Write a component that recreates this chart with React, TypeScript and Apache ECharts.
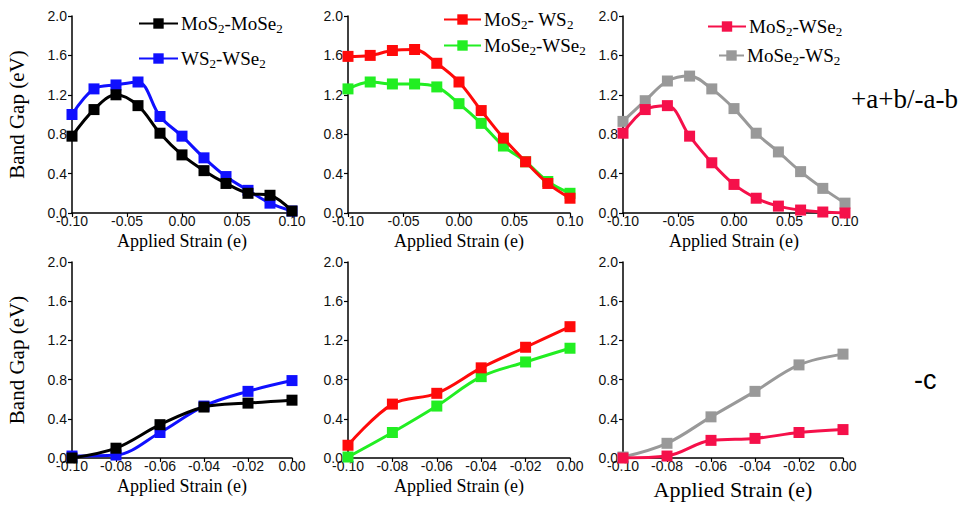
import React, { useEffect, useRef } from "react";
import * as echarts from "echarts";

// Strain values (x)
const strainTop = [-0.1, -0.08, -0.06, -0.04, -0.02, 0.0, 0.02, 0.04, 0.06, 0.08, 0.1];
const strainBottom = [-0.1, -0.08, -0.06, -0.04, -0.02, 0.0];

// Top row: +a+b/-a-b
const mos2Mose2Top = [0.78, 1.05, 1.2, 1.09, 0.81, 0.59, 0.43, 0.3, 0.2, 0.18, 0.02];
const ws2Wse2Top = [1.0, 1.26, 1.3, 1.33, 0.98, 0.78, 0.56, 0.37, 0.23, 0.1, 0.02];
const mos2Ws2Top = [1.59, 1.6, 1.65, 1.66, 1.52, 1.33, 1.04, 0.76, 0.52, 0.3, 0.15];
const mose2Wse2Top = [1.26, 1.33, 1.31, 1.31, 1.28, 1.11, 0.91, 0.68, 0.52, 0.32, 0.2];
const mos2Wse2Top = [0.81, 1.05, 1.09, 0.78, 0.51, 0.29, 0.15, 0.07, 0.03, 0.01, 0.0];
const mose2Ws2Top = [0.93, 1.14, 1.34, 1.39, 1.26, 1.06, 0.81, 0.62, 0.42, 0.25, 0.1];

// Bottom row: -c
const mos2Mose2Bot = [0.0, 0.1, 0.34, 0.52, 0.56, 0.59];
const ws2Wse2Bot = [0.02, 0.03, 0.26, 0.53, 0.68, 0.79];
const mos2Ws2Bot = [0.13, 0.55, 0.66, 0.92, 1.13, 1.34];
const mose2Wse2Bot = [0.01, 0.26, 0.53, 0.83, 0.98, 1.12];
const mos2Wse2Bot = [0.0, 0.02, 0.18, 0.2, 0.26, 0.29];
const mose2Ws2Bot = [0.01, 0.15, 0.42, 0.68, 0.95, 1.06];

const names = ["MoS2-MoSe2", "WS2-WSe2", "MoS2- WS2", "MoSe2-WSe2", "MoS2-WSe2", "MoSe2-WS2"];
const colors = ["#000000", "#1010ff", "#ff0a0a", "#22ee22", "#f5104a", "#999999"];

const yTitle = "Band Gap (eV)";
const xTitle = "Applied Strain (e)";
const rowLabels = ["+a+b/-a-b", "-c"];

const SERIF = "'Liberation Serif', 'Times New Roman', serif";
const SANS = "'Liberation Sans', Arial, sans-serif";

export default function App() {
  const ref = useRef<HTMLDivElement>(null);
  useEffect(() => {
    if (!ref.current) return;
    const chart = echarts.init(ref.current, null, { renderer: "svg" });

    const grids = [
      { left: 72, top: 16, width: 220, height: 197 },
      { left: 348, top: 16, width: 222, height: 197 },
      { left: 623, top: 16, width: 222, height: 197 },
      { left: 72, top: 262, width: 220, height: 196 },
      { left: 348, top: 262, width: 222, height: 196 },
      { left: 623, top: 262, width: 220, height: 196 },
    ];

    const axisCommon = {
      axisLine: { show: true, onZero: false, lineStyle: { color: "#000", width: 1.5 } },
      axisTick: { show: true, inside: false, length: 4, lineStyle: { color: "#000", width: 1.2 } },
      splitLine: { show: false },
    };

    const xAxes = grids.map((_, i) => {
      const top = i < 3;
      return {
        type: "value",
        gridIndex: i,
        min: -0.1,
        max: top ? 0.1 : 0,
        interval: top ? 0.05 : 0.02,
        ...axisCommon,
        axisLabel: {
          margin: 1,
          fontFamily: SANS,
          fontSize: 14,
          color: "#111",
          formatter: (v: number) => v.toFixed(2),
        },
        name: xTitle,
        nameLocation: "middle",
        nameGap: i === 5 ? 20 : 19,
        nameTextStyle: { fontFamily: SERIF, fontSize: i === 5 ? 22 : 18, color: "#000" },
      };
    });

    const yAxes = grids.map((_, i) => ({
      type: "value",
      gridIndex: i,
      min: 0,
      max: 2,
      interval: 0.4,
      ...axisCommon,
      axisLabel: {
        margin: 5,
        fontFamily: SANS,
        fontSize: 14,
        color: "#111",
        formatter: (v: number) => v.toFixed(1),
      },
      name: i === 0 || i === 3 ? yTitle : "",
      nameLocation: "middle",
      nameGap: 45,
      nameTextStyle: { fontFamily: SERIF, fontSize: 21, color: "#000" },
    }));

    const panelData = [
      [mos2Mose2Top, ws2Wse2Top],
      [mos2Ws2Top, mose2Wse2Top],
      [mos2Wse2Top, mose2Ws2Top],
      [mos2Mose2Bot, ws2Wse2Bot],
      [mos2Ws2Bot, mose2Wse2Bot],
      [mos2Wse2Bot, mose2Ws2Bot],
    ];

    const series: any[] = [];
    panelData.forEach((pair, p) => {
      const xs = p < 3 ? strainTop : strainBottom;
      pair.forEach((vals, k) => {
        const idx = (p % 3) * 2 + k;
        series.push({
          type: "line",
          name: names[idx],
          xAxisIndex: p,
          yAxisIndex: p,
          smooth: 0.35,
          symbol: "rect",
          symbolSize: 11,
          showSymbol: true,
          color: colors[idx],
          lineStyle: { width: 3, color: colors[idx] },
          itemStyle: { color: colors[idx] },
          z: k === 0 ? 3 : 2,
          data: xs.map((x, j) => [x, vals[j]]),
        });
      });
    });

    const legendPos = [
      { left: 138, top: 14, w: 39 },
      { left: 138, top: 49, w: 39 },
      { left: 443, top: 10, w: 37 },
      { left: 443, top: 36, w: 37 },
      { left: 707, top: 17, w: 38 },
      { left: 718, top: 46, w: 25 },
    ];

    const legends = names.map((n, i) => ({
      data: [n],
      left: legendPos[i].left,
      top: legendPos[i].top,
      itemWidth: legendPos[i].w,
      itemHeight: 13,
      itemGap: 0,
      padding: 0,
      selectedMode: false,
      formatter: (name: string) => name.replace(/2/g, "{s|2}"),
      textStyle: {
        fontFamily: SERIF,
        fontSize: 19,
        color: "#000",
        padding: [0, 0, 0, -2],
        rich: {
          s: { fontFamily: SERIF, fontSize: 13, color: "#000", padding: [10, 0, 0, 0] },
        },
      },
    }));

    chart.setOption({
      animation: false,
      backgroundColor: "#ffffff",
      grid: grids,
      xAxis: xAxes,
      yAxis: yAxes,
      legend: legends,
      series,
      graphic: [
        {
          type: "text",
          left: 851,
          top: 85,
          style: { text: rowLabels[0], fontFamily: SERIF, fontSize: 27, fill: "#000" },
        },
        {
          type: "text",
          left: 914,
          top: 366,
          style: { text: rowLabels[1], fontFamily: SANS, fontSize: 27, fill: "#000" },
        },
      ],
    });

    return () => chart.dispose();
  }, []);

  return (
    <div
      ref={ref}
      style={{ position: "fixed", left: 0, top: 0, width: 958, height: 507, background: "#fff" }}
    />
  );
}
